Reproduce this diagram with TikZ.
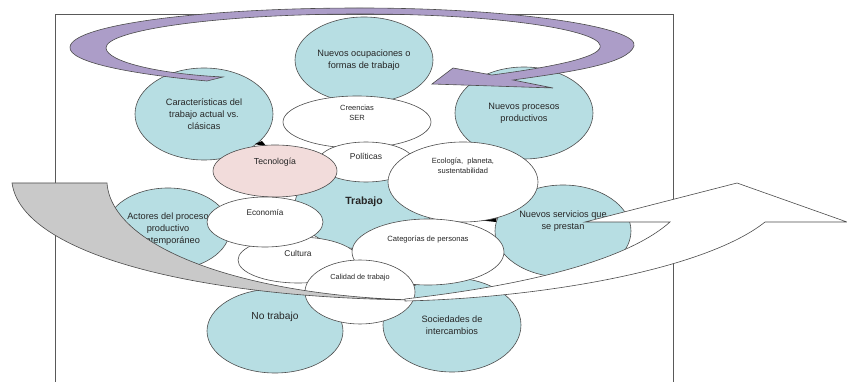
\documentclass[tikz,border=0pt]{standalone}
\usepackage{fontspec}
\setmainfont{Liberation Sans}
\usetikzlibrary{shapes.geometric}

\definecolor{celeste}{HTML}{B7DEE3}
\definecolor{rosado}{HTML}{F2DCDB}
\definecolor{lila}{HTML}{AC9DC8}
\definecolor{gris}{HTML}{C9C9C9}

\begin{document}
\begin{tikzpicture}[
    x=1pt, y=-1pt,
    every node/.style={font=\fontsize{9.2}{11.7}\selectfont, text=black!85},
    zona/.style={
        draw=black!70, line width=0.6pt, ellipse,
        inner sep=0pt, align=center
    },
    azul/.style={zona, fill=celeste},
    blanco/.style={zona, fill=white},
    chico/.style={font=\fontsize{#1}{9.8}\selectfont},
    sube/.style={text depth=#1},
    cinta/.style={draw=black!70, line width=0.6pt}
]
\useasboundingbox (0,0) rectangle (847,382);

% marco
\draw[black!65, line width=0.8pt] (55,382) -- (55,14) -- (673,14) -- (673,382);

% areas exteriores
\node[azul, minimum width=138pt, minimum height=86pt] (ocup) at (364,60)
    {Nuevos ocupaciones o\\formas de trabajo};
\node[azul, minimum width=138pt, minimum height=92pt] (carac) at (204,114)
    {Características del\\trabajo actual vs.\\clásicas};
\node[azul, minimum width=138pt, minimum height=92pt] (proc) at (524,113)
    {Nuevos procesos\\productivos};
\node[azul, minimum width=138pt, minimum height=88pt,
      font=\fontsize{10.5}{12}\selectfont\bfseries, sube=8pt] (trab) at (364,205) {Trabajo};
\node[azul, minimum width=124pt, minimum height=82pt] (actor) at (168,229)
    {Actores del proceso\\productivo\\contemporáneo};
\node[azul, minimum width=136pt, minimum height=92pt, sube=22pt] (serv) at (563,231)
    {Nuevos servicios que\\se prestan};
\node[azul, minimum width=136pt, minimum height=84pt,
      font=\fontsize{10.2}{12}\selectfont, sube=30pt] (notr) at (275,331) {No trabajo};
\node[azul, minimum width=138pt, minimum height=94pt] (soc) at (452,325)
    {Sociedades de\\intercambios};

% puntas sueltas
\fill[black] (255,144) -- (262,141) -- (267,147) -- cycle;
\fill[black] (477,220) -- (497,215) -- (496,222) -- cycle;

% areas interiores
\node[blanco, minimum width=148pt, minimum height=52pt, chico=7.5, sube=18pt] (cree) at (357,122)
    {Creencias\\SER};
\node[blanco, minimum width=96pt, minimum height=40pt, chico=8.5, sube=12pt] (poli) at (366,162)
    {Políticas};
\node[zona, fill=rosado, minimum width=124pt, minimum height=52pt, chico=8.7, sube=20pt] (tecn) at (275,171)
    {Tecnología};
\node[blanco, minimum width=150pt, minimum height=80pt, chico=7.5, sube=32pt] (ecol) at (463,182)
    {Ecología,~ planeta,\\sustentabilidad};
\node[blanco, minimum width=120pt, minimum height=46pt, chico=8.4, sube=14pt] (cult) at (298,260)
    {Cultura};
\node[blanco, minimum width=116pt, minimum height=50pt, chico=8.2, sube=20pt] (econ) at (265,222)
    {Economía};
\node[blanco, minimum width=152pt, minimum height=66pt, chico=7.6, sube=26pt] (cate) at (428,252)
    {Categorías de personas};
\node[blanco, minimum width=110pt, minimum height=64pt, chico=7.3, sube=30pt] (cali) at (360,292)
    {Calidad de trabajo};

% flecha circular
\draw[cinta, fill=lila] (207,81) .. controls (130,74) and (68,62) .. (70,47)
    .. controls (72,25) and (200,8) .. (360,8)
    .. controls (520,8) and (640,28) .. (634,46)
    .. controls (628,64) and (570,72) .. (513,80)
    -- (553,88) -- (432,84) -- (453,68) -- (492,75)
    .. controls (560,66) and (604,56) .. (600,45)
    .. controls (596,30) and (500,14) .. (360,14)
    .. controls (220,14) and (105,30) .. (106,48)
    .. controls (107,62) and (160,74) .. (223,77) -- cycle;

% flecha ancha
\draw[cinta, fill=gris] (12,183) -- (107,183)
    .. controls (112,250) and (250,296) .. (415,300)
    .. controls (200,298) and (22,255) .. (12,183) -- cycle;
\draw[cinta, fill=white] (405,299) .. controls (520,286) and (625,262) .. (670,222)
    -- (585,222) -- (737,183) -- (847,222) -- (765,222)
    .. controls (705,270) and (540,298) .. (405,301) -- cycle;

\end{tikzpicture}
\end{document}
